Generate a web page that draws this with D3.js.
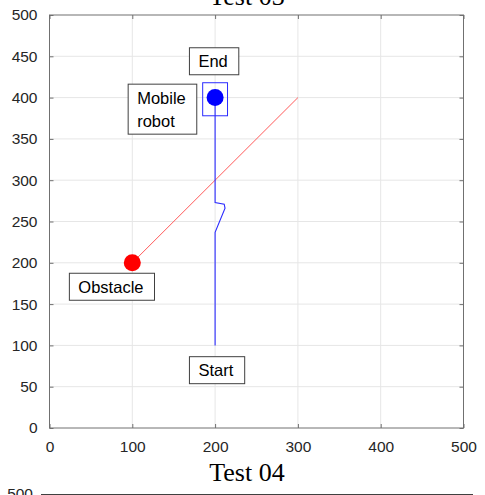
<!DOCTYPE html>
<html>
<head>
<meta charset="utf-8">
<script src="https://cdn.jsdelivr.net/npm/d3@7"></script>
<style>
  body { margin: 0; background: #fff; }
  svg { display: block; }
  .tick text { font-family: "Liberation Sans", Arial, sans-serif; font-size: 15.5px; fill: #262626; }
</style>
</head>
<body>
<svg id="chart" width="485" height="495"></svg>
<script>
// axis ticks
const xTicks = [0, 100, 200, 300, 400, 500];
const yTicks = [0, 50, 100, 150, 200, 250, 300, 350, 400, 450, 500];

// robot path (data units)
const pathX = [200, 200, 212, 211, 200, 200];
const pathY = [100, 237, 266, 271, 273, 400];

// obstacle trajectory
const obsX = [100, 300];
const obsY = [200, 400];

// robot body rectangle corners
const robotRectX = [185, 215];
const robotRectY = [378, 418];
const robotPos = [200, 400];
const obstaclePos = [100, 200];

// text annotations: left x, middle y (data units)
const labelText = ["End", "Mobile\nrobot", "Obstacle", "Start"];
const labelX = [169, 95, 24, 169];
const labelY = [444, 386, 171, 70];

const svg = d3.select("#chart");
const pLeft = 49.5, pRight = 463.5, pTop = 15, pBottom = 428;

const x = d3.scaleLinear().domain([0, 500]).range([pLeft, pRight]);
const y = d3.scaleLinear().domain([0, 500]).range([pBottom, pTop]);

// title of this plot (cut off at top)
svg.append("text")
    .attr("x", 247).attr("y", 5)
    .attr("text-anchor", "middle")
    .style("font", "26px 'Liberation Serif', 'Times New Roman', serif")
    .text("Test 03");

// grid
const g = svg.append("g");
g.selectAll(".gx").data(xTicks.slice(1, -1)).enter().append("line")
    .attr("x1", d => x(d)).attr("x2", d => x(d))
    .attr("y1", pTop).attr("y2", pBottom)
    .attr("stroke", "#e6e6e6");
g.selectAll(".gy").data(yTicks.slice(1, -1)).enter().append("line")
    .attr("y1", d => y(d)).attr("y2", d => y(d))
    .attr("x1", pLeft).attr("x2", pRight)
    .attr("stroke", "#e6e6e6");

// axes, ticks inside like matlab
function styleAxis(sel) {
    sel.select(".domain").remove();
    sel.selectAll(".tick line").attr("stroke", "#707070");
}
svg.append("g").attr("transform", `translate(0,${pBottom})`)
    .call(d3.axisBottom(x).tickValues(xTicks).tickSizeInner(-4).tickSizeOuter(0).tickPadding(13))
    .call(styleAxis);
svg.append("g").attr("transform", `translate(${pLeft},0)`)
    .call(d3.axisLeft(y).tickValues(yTicks).tickSizeInner(-4).tickSizeOuter(0).tickPadding(12))
    .call(styleAxis);
svg.append("g").attr("transform", `translate(0,${pTop})`)
    .call(d3.axisTop(x).tickValues(xTicks).tickSizeInner(-4).tickSizeOuter(0).tickFormat(""))
    .call(styleAxis);
svg.append("g").attr("transform", `translate(${pRight},0)`)
    .call(d3.axisRight(y).tickValues(yTicks).tickSizeInner(-4).tickSizeOuter(0).tickFormat(""))
    .call(styleAxis);
svg.append("rect")
    .attr("x", pLeft).attr("y", pTop)
    .attr("width", pRight - pLeft).attr("height", pBottom - pTop)
    .attr("fill", "none").attr("stroke", "#707070");

// obstacle trajectory
const line = d3.line().x(d => x(d[0])).y(d => y(d[1]));
svg.append("path")
    .attr("d", line(d3.zip(obsX, obsY)))
    .attr("fill", "none").attr("stroke", "#ff5a5a").attr("stroke-width", 1);

// robot path
svg.append("path")
    .attr("d", line(d3.zip(pathX, pathY)))
    .attr("fill", "none").attr("stroke", "#2b2bff").attr("stroke-width", 1.1);

// robot body
svg.append("rect")
    .attr("x", x(robotRectX[0])).attr("y", y(robotRectY[1]))
    .attr("width", x(robotRectX[1]) - x(robotRectX[0]))
    .attr("height", y(robotRectY[0]) - y(robotRectY[1]))
    .attr("fill", "none").attr("stroke", "#2b2bff");

svg.append("circle")
    .attr("cx", x(robotPos[0])).attr("cy", y(robotPos[1])).attr("r", 8.5)
    .attr("fill", "#0000ff");
svg.append("circle")
    .attr("cx", x(obstaclePos[0])).attr("cy", y(obstaclePos[1])).attr("r", 8.5)
    .attr("fill", "#ff0000");

// text boxes
labelText.forEach(function(t, i) {
    var lines = t.split("\n");
    var lg = svg.append("g");
    var lineH = 23;
    var cx = x(labelX[i]), cy = y(labelY[i]);
    var txt = lg.append("text")
        .style("font", "16.5px 'Liberation Sans', Arial, sans-serif")
        .attr("fill", "#000");
    lines.forEach(function(l, j) {
        txt.append("tspan")
            .attr("x", cx + 9)
            .attr("y", cy + (j - (lines.length - 1) / 2) * lineH + 6)
            .text(l);
    });
    var w = txt.node().getBBox().width + 20;
    var h = lines.length * lineH + 4;
    lg.insert("rect", "text")
        .attr("x", cx).attr("y", cy - h / 2)
        .attr("width", w).attr("height", h)
        .attr("fill", "#fff").attr("stroke", "#404040");
});

// next subplot, only its top is visible
const left2 = 41, right2 = 473, top2 = 494;
svg.append("text")
    .attr("x", 247).attr("y", 481)
    .attr("text-anchor", "middle")
    .style("font", "26px 'Liberation Serif', 'Times New Roman', serif")
    .text("Test 04");
svg.append("line")
    .attr("x1", left2).attr("x2", right2)
    .attr("y1", top2 + 0.5).attr("y2", top2 + 0.5)
    .attr("stroke", "#404040");
svg.append("text")
    .attr("x", left2 - 8).attr("y", top2 + 5)
    .attr("text-anchor", "end")
    .style("font", "15.5px 'Liberation Sans', Arial, sans-serif")
    .attr("fill", "#262626")
    .text("500");
</script>
</body>
</html>
